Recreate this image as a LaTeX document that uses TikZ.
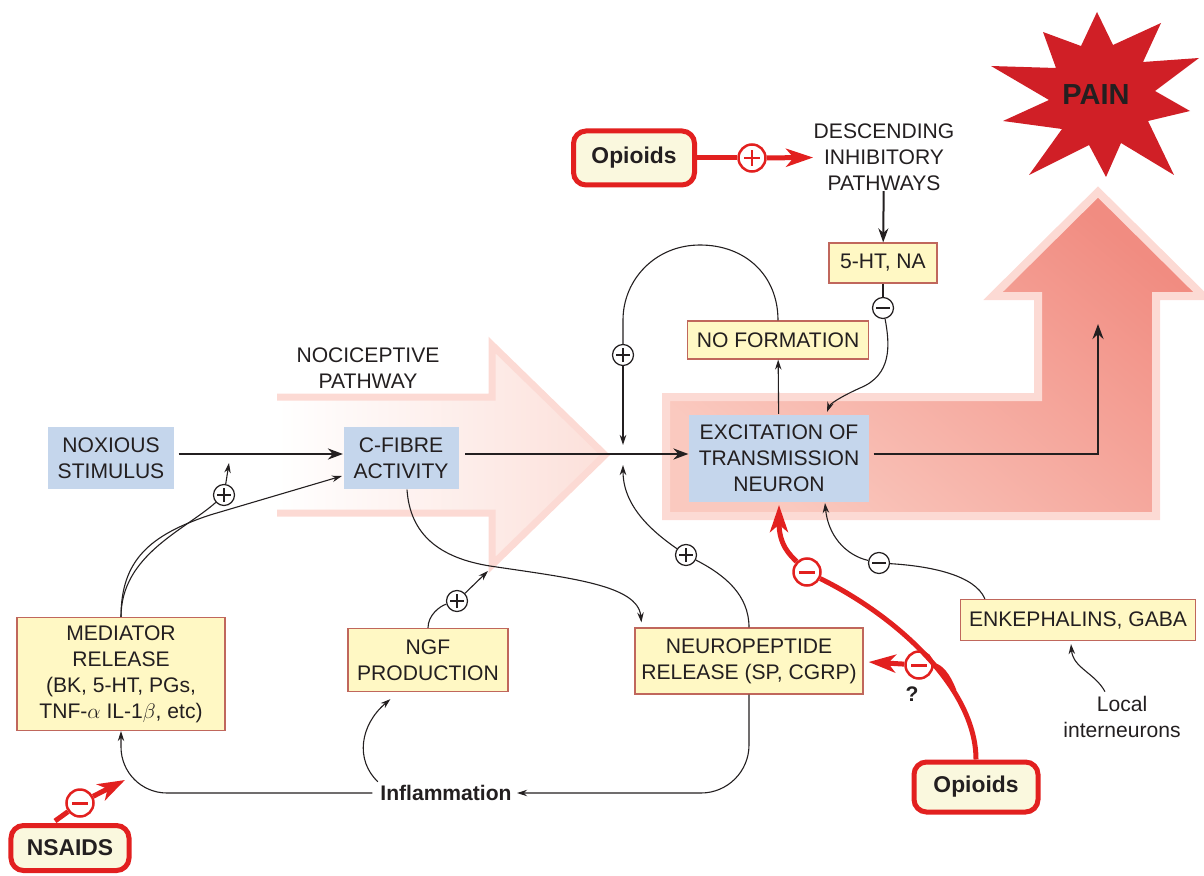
\documentclass[tikz,border=0pt]{standalone}
\usepackage{fontspec}
\setmainfont{Liberation Sans}
\usetikzlibrary{arrows.meta,calc}

\definecolor{ink}{HTML}{231F20}
\definecolor{boxblue}{HTML}{C5D6EC}
\definecolor{boxyellow}{HTML}{FFF8C4}
\definecolor{boxedge}{HTML}{C0675C}
\definecolor{drugred}{HTML}{E2201F}
\definecolor{drugfill}{HTML}{FAF8DE}
\definecolor{painred}{HTML}{D01F26}
\definecolor{pathpink}{HTML}{FCDAD4}
\definecolor{pathlight}{HTML}{FAC9BF}
\definecolor{pathdark}{HTML}{F18C81}
\definecolor{nocifill}{HTML}{FCE0DA}

\begin{document}
\begin{tikzpicture}[x=0.2mm, y=-0.2mm, color=ink, line width=0.22mm,
    font=\fontsize{12}{14.8}\selectfont,
    >={Stealth[length=2mm, width=1.3mm]},
    bluebox/.style={fill=boxblue, align=center, inner sep=0pt},
    yellowbox/.style={fill=boxyellow, draw=boxedge, line width=0.25mm, align=center, inner sep=0pt},
    drugbox/.style={fill=drugfill, draw=drugred, line width=1mm, rounded corners=2.5mm,
        inner sep=0pt, font=\fontsize{13}{15}\selectfont\bfseries},
    plaintext/.style={align=center, inner sep=0pt},
    sign/.style={circle, draw=ink, fill=white, line width=0.25mm, minimum size=4.2mm, inner sep=0pt},
    plussign/.style={sign, path picture={
        \draw[ink, line width=0.3mm]
            ([xshift=-1.4mm]path picture bounding box.center) -- ([xshift=1.4mm]path picture bounding box.center)
            ([yshift=-1.4mm]path picture bounding box.center) -- ([yshift=1.4mm]path picture bounding box.center);}},
    minussign/.style={sign, path picture={
        \draw[ink, line width=0.3mm]
            ([xshift=-1.4mm]path picture bounding box.center) -- ([xshift=1.4mm]path picture bounding box.center);}},
    redsign/.style={circle, draw=drugred, fill=white, line width=0.5mm, minimum size=5.4mm, inner sep=0pt},
    redplus/.style={redsign, path picture={
        \draw[drugred, line width=0.55mm]
            ([xshift=-1.6mm]path picture bounding box.center) -- ([xshift=1.6mm]path picture bounding box.center)
            ([yshift=-1.6mm]path picture bounding box.center) -- ([yshift=1.6mm]path picture bounding box.center);}},
    redminus/.style={redsign, path picture={
        \draw[drugred, line width=0.6mm]
            ([xshift=-1.6mm]path picture bounding box.center) -- ([xshift=1.6mm]path picture bounding box.center);}},
    thinlink/.style={->, line width=0.22mm},
    midlink/.style={-{Stealth[length=2.8mm, width=2mm]}, line width=0.4mm},
    mainlink/.style={-{Stealth[length=3mm, width=2.2mm]}, line width=0.5mm},
    redline/.style={draw=drugred, line width=1mm},
    redlink/.style={redline, -{Stealth[length=5.4mm, width=3.6mm, inset=1.5mm]}},
  ]
    \useasboundingbox (0,0) rectangle (1204,876);

    % Big pathway arrows
    \shade[left color=white, right color=nocifill]
        (277,397) -- (492,397) -- (492,345) -- (605,455) -- (492,565) -- (492,513) -- (277,513) -- cycle;
    \draw[pathpink, line width=1.4mm, line join=miter]
        (277,397) -- (492,397) -- (492,345) -- (605,455) -- (492,565) -- (492,513) -- (277,513);
    \shadedraw[draw=pathpink, line width=1.6mm, line join=miter,
        bottom color=pathlight, top color=pathdark, shading angle=-40]
        (666,397) -- (1038,397) -- (1038,296) -- (993,296) -- (1098,192) -- (1203,296)
        -- (1156,296) -- (1156,516) -- (666,516) -- cycle;

    % Pain star
    \fill[painred] (1097,12) -- (1113,45) -- (1161,23) -- (1143,62) -- (1199,58) -- (1155,91)
        -- (1190,111) -- (1148,121) -- (1174,175) -- (1121,143) -- (1106,177) -- (1089,145)
        -- (1029,175) -- (1062,129) -- (1003,121) -- (1049,100) -- (991,66) -- (1056,68)
        -- (1043,32) -- (1081,46) -- cycle;
    \node[plaintext, font=\fontsize{16.5}{18}\selectfont\bfseries] (pain) at (1096,95) {PAIN};

    % Boxes and texts
    \node[plaintext] (noci) at (368,368) {NOCICEPTIVE\\PATHWAY};
    \node[bluebox, minimum width=25.2mm, minimum height=12.4mm] (noxious) at (111,458) {NOXIOUS\\STIMULUS};
    \node[bluebox, minimum width=23mm, minimum height=12.4mm] (cfibre) at (401,458) {C-FIBRE\\ACTIVITY};
    \node[bluebox, minimum width=36mm, minimum height=17.4mm] (excit) at (779,458) {EXCITATION OF\\TRANSMISSION\\NEURON};
    \node[yellowbox, minimum width=36.2mm, minimum height=7.6mm] (noform) at (778,340) {NO FORMATION};
    \node[yellowbox, minimum width=21.6mm, minimum height=8mm] (htna) at (883,263) {5-HT, NA};
    \node[plaintext] (descend) at (884,157) {DESCENDING\\INHIBITORY\\PATHWAYS};
    \node[drugbox, minimum width=24.2mm, minimum height=10.8mm] (opitop) at (634,158) {Opioids};
    \node[yellowbox, minimum width=41.6mm, minimum height=22.6mm] (mediator) at (121,674)
        {MEDIATOR\\RELEASE\\(BK, 5-HT, PGs,\\TNF-$\alpha$ IL-1$\beta$, etc)};
    \node[yellowbox, minimum width=32mm, minimum height=12.6mm] (ngf) at (428,660) {NGF\\PRODUCTION};
    \node[yellowbox, minimum width=45.6mm, minimum height=13.2mm] (neuro) at (749,661) {NEUROPEPTIDE\\RELEASE (SP, CGRP)};
    \node[yellowbox, minimum width=47mm, minimum height=8.2mm] (enk) at (1078,620) {ENKEPHALINS, GABA};
    \node[plaintext] (local) at (1122,717) {Local\\interneurons};
    \node[drugbox, minimum width=24.8mm, minimum height=10mm] (opibot) at (976,787) {Opioids};
    \node[drugbox, minimum width=23.6mm, minimum height=9mm] (nsaids) at (70,848) {NSAIDS};
    \node[plaintext, font=\fontsize{12}{14.8}\selectfont\bfseries] (inflam) at (446,793) {Inflammation};
    \node[plaintext, font=\fontsize{12}{14.8}\selectfont\bfseries] (query) at (912,694) {?};

    % Signs
    \node[plussign] (p1) at (224,495) {};
    \node[plussign] (p2) at (623,355) {};
    \node[plussign] (p3) at (686,555) {};
    \node[plussign] (p4) at (457,601) {};
    \node[minussign] (m1) at (883,308) {};
    \node[minussign] (m2) at (879,563) {};
    \node[redplus] (r1) at (752,158) {};
    \node[redminus] (r2) at (807,572) {};
    \node[redminus] (r3) at (919,665) {};
    \node[redminus] (r4) at (80,803) {};

    % Free ends
    \coordinate (hub) at (623,454);
    \coordinate (painend) at (1098,324);
    \coordinate (medgoal) at (229,463);
    \coordinate (ngfgoal) at (488,571);
    \coordinate (redfork) at (954,691);
    \coordinate (nsaidgoal) at (125,780);

    % Main pathway
    \draw[mainlink] ($(noxious.east)+(4,-4)$) -- ($(cfibre.west)+(0,-4)$);
    \draw[mainlink] ($(cfibre.east)+(6,-4)$) -- ($(excit.west)+(0,-4)$);
    \draw[mainlink] ($(excit.east)+(4,-4)$) -| (painend);

    % NO loop
    \draw[thinlink] (excit) -- (noform);
    \draw (noform.north) .. controls (778,275) and (745,245) .. (700,245)
        .. controls (655,245) and (623,280) .. (623,320) -- (p2);
    \draw[thinlink] (p2) -- ($(hub)+(0,-9)$);

    % Descending inhibition
    \draw[midlink] (descend) -- (htna);
    \draw (htna) -- (m1);
    \draw[thinlink] (m1) .. controls (890,345) and (892,375) .. (860,388)
        .. controls (840,397) and (830,404) .. ($(excit.north)+(48,-2)$);

    % Neuropeptides
    \draw (neuro.north) .. controls (749,595) and (725,575) .. (p3);
    \draw[thinlink] (p3) .. controls (650,530) and (623,505) .. ($(hub)+(0,11)$);
    \draw[thinlink] ($(cfibre.south)+(6,0)$) .. controls (410,535) and (440,558) .. (490,566)
        .. controls (570,578) and (638,585) .. ($(neuro.north west)+(7,-5)$);
    \draw (ngf.north) .. controls (428,615) and (440,606) .. (p4);
    \draw[thinlink] (p4) -- (ngfgoal);

    % Mediators
    \draw (mediator.north) .. controls (121,555) and (185,530) .. (p1);
    \draw[thinlink] (p1) -- (medgoal);
    \draw[thinlink] (mediator.north) .. controls (121,560) and (150,535) .. (210,515)
        -- ($(cfibre.west)+(-1,18)$);

    % Inflammation
    \draw[thinlink, rounded corners=9.6mm, shorten >=1mm] (neuro.south) |- (inflam.east);
    \draw[thinlink, rounded corners=9.2mm, shorten <=1.5mm] (inflam.west) -| (mediator.south);
    \draw[thinlink] ($(inflam.north west)+(-2,-3)$) .. controls (355,760) and (360,725)
        .. ($(ngf.south west)+(43,7)$);

    % Local inhibition
    \draw ($(enk.north west)+(25,0)$) .. controls (975,575) and (930,566) .. (m2);
    \draw[thinlink] (m2) .. controls (845,555) and (828,535) .. ($(excit.south)+(46,1)$);
    \draw[thinlink] ($(local.north)+(-17,-4)$) .. controls (1095,673) and (1073,668)
        .. ($(enk.south)+(-7,3)$);

    % Drugs
    \draw[redline] (opitop) -- (r1);
    \draw[redlink] (r1) -- (descend);
    \draw[redline] (opibot.north) .. controls (976,690) and (900,618) .. (r2);
    \draw[redlink] (r2) .. controls (790,555) and (779,545) .. ($(excit.south)+(0,3)$);
    \draw[redline] (redfork) .. controls (948,675) and (940,666) .. (r3);
    \draw[redlink] (r3) -- ($(neuro.east)+(5,1)$);
    \draw[redline] ($(nsaids.north)+(-15,-2)$) -- (r4);
    \draw[redlink] (r4) -- (nsaidgoal);
\end{tikzpicture}
\end{document}
